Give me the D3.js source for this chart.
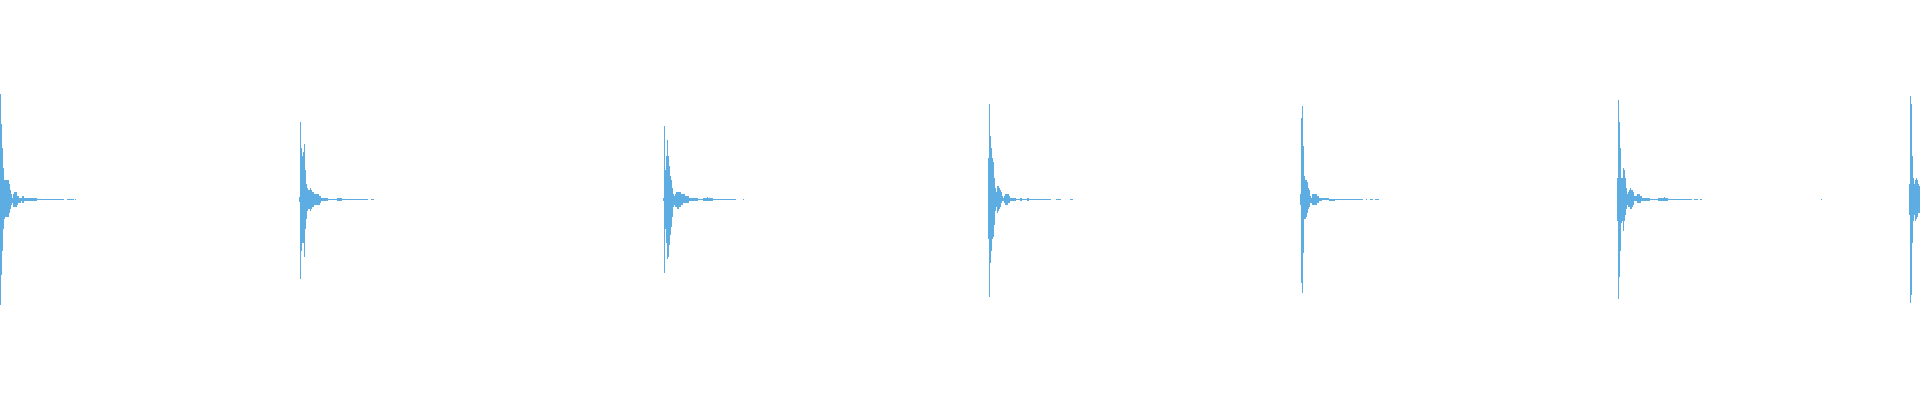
<!DOCTYPE html>
<html>
<head>
<meta charset="utf-8">
<script src="https://cdn.jsdelivr.net/npm/d3@7"></script>
<style>
  html, body { margin: 0; padding: 0; background: #fff; }
  #wave { width: 1920px; height: 400px; }
</style>
</head>
<body>
<div id="wave"></div>
<script>
// peak data: one max/min pair per display column, amplitude in [-1, 1]
const hitStarts = [0, 299, 663, 988, 1300, 1617, 1909];

const hit1Max = [.53,.38,.26,.16,.10,.10,.10,.10,.10,.08,.05,.03,.01,.03,.04,.04,.04,.02,.02,.01,.01,.01,.02,.02,.01,.01,
  .01,.01,.01,.01,.01,.01,.01,.01,.01,.01,.01,
  .005,.005,.005,.005,.005,.005,.005,.005,.005,.005,.005,.005,
  .003,.003,.003,.003,.003,.003,.003,.003,.003,.003,.003,.003,.003,.003,.003,
  0,0,0,.003,.003,.003,.003,.003,.003,.003,0,.003];
const hit1Min = [-.53,-.38,-.26,-.15,-.10,-.09,-.09,-.09,-.09,-.07,-.05,-.03,-.02,-.04,-.04,-.04,-.04,-.03,-.02,-.02,-.02,-.01,-.02,-.02,-.01,-.01,
  -.01,-.01,-.01,-.01,-.01,-.01,-.01,-.01,-.01,-.01,-.01,
  -.005,-.005,-.005,-.005,-.005,-.005,-.005,-.005,-.005,-.005,-.005,-.005,
  -.003,-.003,-.003,-.003,-.003,-.003,-.003,-.003,-.003,-.003,-.003,-.003,-.003,-.003,-.003,
  0,0,0,-.003,-.003,-.003,-.003,-.003,-.003,-.003,0,-.003];

const hit2Max = [.015,.39,.26,.22,.24,.28,.15,.08,.06,.05,.05,.06,.05,.04,.04,.03,.03,.03,.03,.03,.02,.02,.01,.01,
  .01,.01,.01,.01,.01,
  .005,.005,.005,.005,.005,.005,.005,.005,.005,
  .01,.01,.01,.01,.01,
  .003,.003,.003,.003,.003,.003,.003,.003,.003,.003,.003,.003,.003,.003,.003,.003,.003,.003,.003,.003,.003,.003,.003,.003,.003,
  .003,0,0,0,.003,.003,.003];
const hit2Min = [-.015,-.40,-.26,-.22,-.22,-.29,-.15,-.10,-.06,-.05,-.05,-.06,-.05,-.04,-.04,-.03,-.03,-.03,-.03,-.03,-.03,-.02,-.01,-.01,
  -.01,-.01,-.01,-.01,-.01,
  -.005,-.005,-.005,-.005,-.005,-.005,-.005,-.005,-.005,
  -.01,-.01,-.01,-.01,-.01,
  -.003,-.003,-.003,-.003,-.003,-.003,-.003,-.003,-.003,-.003,-.003,-.003,-.003,-.003,-.003,-.003,-.003,-.003,-.003,-.003,-.003,-.003,-.003,-.003,-.003,
  -.003,0,0,0,-.003,-.003,-.003];

const hit3Max = [.01,.37,.15,.22,.30,.22,.17,.12,.10,.06,.03,.02,.03,.04,.04,.04,.04,.04,.03,.03,.03,.03,.02,.02,.02,.02,.01,.01,
  .01,.01,.01,.01,.01,.01,.01,
  .005,.005,.005,.005,.005,
  .01,.01,.01,.01,.015,.01,.01,.01,.01,.01,
  .003,.003,.003,.003,.003,.003,.003,.003,.003,.003,.003,.003,.003,.003,.003,.003,.003,.003,.003,.003,.003,.003,.003,
  0,0,0,0,0,0,0,.003];
const hit3Min = [-.01,-.37,-.15,-.22,-.30,-.29,-.23,-.18,-.14,-.09,-.04,-.03,-.04,-.04,-.05,-.05,-.04,-.04,-.03,-.03,-.02,-.02,-.02,-.02,-.02,-.02,-.01,-.01,
  -.01,-.01,-.01,-.01,-.01,-.01,-.01,
  -.005,-.005,-.005,-.005,-.005,
  -.01,-.01,-.01,-.01,-.01,-.01,-.01,-.01,-.01,-.01,
  -.003,-.003,-.003,-.003,-.003,-.003,-.003,-.003,-.003,-.003,-.003,-.003,-.003,-.003,-.003,-.003,-.003,-.003,-.003,-.003,-.003,-.003,-.003,
  0,0,0,0,0,0,0,-.003];

const hit4Max = [.21,.48,.32,.26,.21,.19,.11,.06,.04,.07,.07,.06,.05,.04,.02,.01,.02,.03,.03,.03,.03,.02,.01,.01,
  .01,.01,.01,.01,
  .005,.005,.005,.005,
  .01,.01,
  .005,.005,.005,.005,.005,
  .01,.01,
  .005,.005,.005,.005,.005,.005,.005,.005,.005,.005,
  .003,.003,.003,.003,.003,.003,.003,.003,.003,.003,.003,.003,
  0,0,0,0,0,.003,.003,.003,.003,.003,0,0,0,0,0,0,0,0,0,.003,.003,.003];
const hit4Min = [-.20,-.49,-.32,-.26,-.20,-.19,-.13,-.06,-.04,-.07,-.06,-.05,-.04,-.02,-.01,-.01,-.02,-.03,-.03,-.03,-.02,-.02,-.01,-.01,
  -.01,-.01,-.01,-.01,
  -.005,-.005,-.005,-.005,
  -.01,-.01,
  -.005,-.005,-.005,-.005,-.005,
  -.01,-.01,
  -.005,-.005,-.005,-.005,-.005,-.005,-.005,-.005,-.005,-.005,
  -.003,-.003,-.003,-.003,-.003,-.003,-.003,-.003,-.003,-.003,-.003,-.003,
  0,0,0,0,0,-.003,-.003,-.003,-.003,-.003,0,0,0,0,0,0,0,0,0,-.003,-.003,-.003];

const hit5Max = [.03,.41,.47,.27,.12,.10,.10,.09,.06,.05,.02,.01,.03,.03,.03,.03,.03,.02,.02,
  .01,.01,.01,
  .01,.01,.01,.01,.01,.01,.01,
  .005,.005,.005,.005,.005,.005,
  .003,.003,.003,.003,.003,.003,.003,.003,.003,.003,.003,.003,.003,.003,.003,.003,.003,.003,.003,.003,.003,.003,.003,.003,.003,.003,.003,.003,
  0,0,0,.003,0,0,0,.003,.003,.003,0,0,.003,.003,.003,.003];
const hit5Min = [-.03,-.42,-.47,-.27,-.10,-.10,-.09,-.07,-.05,-.04,-.02,-.02,-.03,-.03,-.03,-.03,-.03,-.02,-.02,
  -.01,-.01,-.01,
  -.005,-.005,-.005,-.005,-.005,-.005,-.005,
  -.01,-.01,-.01,-.01,-.01,-.01,
  -.003,-.003,-.003,-.003,-.003,-.003,-.003,-.003,-.003,-.003,-.003,-.003,-.003,-.003,-.003,-.003,-.003,-.003,-.003,-.003,-.003,-.003,-.003,-.003,-.003,-.003,-.003,-.003,
  0,0,0,-.003,0,0,0,-.003,-.003,-.003,0,0,-.003,-.003,-.003,-.003];

const hit6Max = [.11,.50,.39,.26,.11,.11,.16,.15,.11,.06,.03,.04,.05,.06,.05,.05,.04,.02,.02,.02,.03,.03,.03,.02,.02,.01,
  .01,.01,.01,.01,.01,.01,.01,
  .005,.005,.005,.005,.005,.005,
  .003,.003,
  .01,.01,.01,.01,.01,.01,.015,.01,.01,.01,
  .003,.003,.003,.003,.003,.003,.003,.003,.003,.003,.003,.003,.003,.003,.003,.003,.003,.003,.003,.003,.003,.003,.003,.003,
  0,0,.003,.003,.003,.003,0,0,.003,.003];
const hit6Min = [-.11,-.50,-.39,-.26,-.12,-.11,-.16,-.11,-.08,-.05,-.03,-.04,-.04,-.05,-.05,-.04,-.03,-.01,-.01,-.01,-.02,-.02,-.02,-.02,-.01,-.01,
  -.01,-.01,-.01,-.01,-.01,-.01,-.01,
  -.005,-.005,-.005,-.005,-.005,-.005,
  -.003,-.003,
  -.01,-.01,-.01,-.01,-.01,-.01,-.01,-.01,-.01,-.01,
  -.003,-.003,-.003,-.003,-.003,-.003,-.003,-.003,-.003,-.003,-.003,-.003,-.003,-.003,-.003,-.003,-.003,-.003,-.003,-.003,-.003,-.003,-.003,-.003,
  0,0,-.003,-.003,-.003,-.003,0,0,-.003,-.003];

const hit7Max = [.08,.52,.48,.22,.11,.08,.10,.11,.10,.08,.07];
const hit7Min = [-.08,-.52,-.48,-.22,-.11,-.08,-.11,-.10,-.09,-.07,-.07];

// lone sample between hit 6 and hit 7
const strayColumns = [1821];
const strayMax = [.003];
const strayMin = [-.003];

const totalColumns = 1920;

function drawWaveform() {
    const container = d3.select("#wave");
    container.selectAll("*").remove();

    const width = 1920;
    const height = 400;

    const svg = container.append("svg")
        .attr("width", width)
        .attr("height", height);

    const x = d3.scaleLinear().domain([0, totalColumns]).range([0, width]);
    const y = d3.scaleLinear().domain([-1, 1]).range([height - 1, 0]);

    const maxArrays = [hit1Max, hit2Max, hit3Max, hit4Max, hit5Max, hit6Max, hit7Max];
    const minArrays = [hit1Min, hit2Min, hit3Min, hit4Min, hit5Min, hit6Min, hit7Min];

    // flatten the hits into one list of columns
    const columns = [];
    hitStarts.forEach((start, h) => {
        maxArrays[h].forEach((hi, i) => {
            columns.push({ t: start + i, max: hi, min: minArrays[h][i] });
        });
    });
    strayColumns.forEach((t, i) => columns.push({ t: t, max: strayMax[i], min: strayMin[i] }));

    const visible = columns.filter(d => d.max !== 0 || d.min !== 0);

    svg.append("g")
        .attr("fill", "#5dade2")
        .attr("shape-rendering", "crispEdges")
        .selectAll("rect")
        .data(visible)
        .join("rect")
        .attr("x", d => x(d.t))
        .attr("width", d => Math.max(1, x(d.t + 1) - x(d.t)))
        .attr("y", d => y(d.max))
        .attr("height", d => Math.max(1, y(d.min) - y(d.max)));
}

drawWaveform();
</script>
</body>
</html>
